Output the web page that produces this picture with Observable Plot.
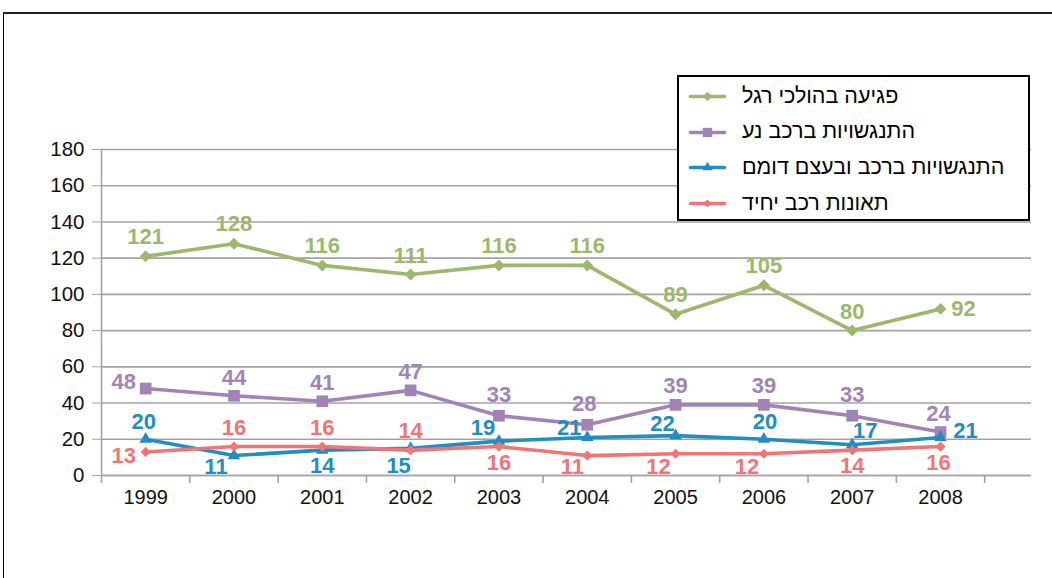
<!DOCTYPE html>
<html>
<head>
<meta charset="utf-8">
<script src="https://cdn.jsdelivr.net/npm/d3@7"></script>
<script src="https://cdn.jsdelivr.net/npm/@observablehq/plot@0.6"></script>
<style>
  html, body { margin: 0; padding: 0; background: #fff; }
  #wrap { position: relative; width: 1052px; height: 578px; overflow: hidden; font-family: "Liberation Sans", Arial, sans-serif; }
  #frame { position: absolute; left: 3px; top: 12px; width: 1100px; height: 600px; border-left: 1px solid #000; border-top: 2px solid #222; }
  #chart { position: absolute; left: 0; top: 0; }
  #legend { position: absolute; left: 677px; top: 75px; width: 353px; height: 146px; box-sizing: border-box; border: 2px solid #000; background: #fff; }
  .row { position: absolute; left: 0; height: 36px; display: flex; align-items: center; }
  .row svg { position: absolute; left: 11px; }
  .row span { position: absolute; left: 63px; white-space: nowrap; font-size: 21.5px; color: #000; direction: rtl; unicode-bidi: plaintext; }
</style>
</head>
<body>
<div id="wrap">
  <div id="frame"></div>
  <div id="chart"></div>
  <div id="legend"></div>
</div>
<script>
// ---- data ----
const years = [1999, 2000, 2001, 2002, 2003, 2004, 2005, 2006, 2007, 2008];
const pedestrian = [121, 128, 116, 111, 116, 116, 89, 105, 80, 92];
const movingVehicle = [48, 44, 41, 47, 33, 28, 39, 39, 33, 24];
const stationaryObject = [20, 11, 14, 15, 19, 21, 22, 20, 17, 21];
const singleVehicle = [13, 16, 16, 14, 16, 11, 12, 12, 14, 16];
const seriesNames = ["פגיעה בהולכי רגל", "התנגשויות ברכב נע", "התנגשויות ברכב ובעצם דומם", "תאונות רכב יחיד"];
const yTicks = [0, 20, 40, 60, 80, 100, 120, 140, 160, 180];

// ---- styling / layout config ----
const colors = ["#9BB86D", "#A283B7", "#228DC0", "#F17477"];
const symbols = ["diamond2", "square", "triangle", "diamond2"];
const radii = [5.4, 6.6, 4.6, 4.6];
// label offsets [dx, dy] per point
const labelOffsets = [
  [[0,-19],[0,-20],[0,-19],[0,-19],[0,-19],[0,-19],[0,-19],[0,-19],[0,-19],[23,0]],
  [[-22,-7],[0,-18],[0,-18],[0,-18],[0,-21],[-3,-21],[0,-19],[0,-19],[0,-21],[-2,-18]],
  [[-2,-17],[-18,11],[0,16],[-12,18],[-16,-13],[-18,-10],[-13,-12],[1,-17],[13,-14],[25,-7]],
  [[-22,4],[0,-19],[0,-19],[0,-19],[0,16],[-15,11],[-17,13],[-17,13],[0,16],[-2,16]]
];

const seriesValues = [pedestrian, movingVehicle, stationaryObject, singleVehicle];
const data = seriesValues.map((vals, s) => years.map((yr, i) => ({
  series: seriesNames[s], year: yr, value: vals[i], dx: labelOffsets[s][i][0], dy: labelOffsets[s][i][1]
})));
const bandEdges = d3.range(years.length + 1).map(i => years[0] - 0.5 + i);

const marks = [
  Plot.gridY(yTicks, {stroke: "#a3a3a3", strokeOpacity: 1, strokeWidth: 1.6}),
  Plot.axisY({ticks: yTicks, tickSize: 9, tickPadding: 8, stroke: "#a3a3a3", fontSize: 20.5, fill: "#111", label: null}),
  Plot.ruleX([years[0] - 0.5], {stroke: "#a3a3a3", strokeWidth: 1.6}),
  Plot.ruleY([0], {stroke: "#a3a3a3", strokeWidth: 1.6}),
  Plot.axisX({ticks: bandEdges, tickSize: 8, tickFormat: () => "", stroke: "#a3a3a3", strokeWidth: 1.6, label: null}),
  Plot.axisX({ticks: years, tickSize: 0, tickPadding: 14, tickFormat: d => String(d), fontSize: 20, fill: "#111", label: null})
];
data.forEach((d, s) => {
  marks.push(Plot.line(d, {x: "year", y: "value", stroke: colors[s], strokeWidth: 3.6}));
  marks.push(Plot.dot(d, {x: "year", y: "value", symbol: symbols[s], r: radii[s], fill: colors[s], stroke: "none"}));
});
data.forEach((d, s) => {
  d.forEach(p => {
    marks.push(Plot.text([p], {x: "year", y: "value", text: p => String(p.value), dx: p.dx, dy: p.dy,
      fill: colors[s], fontSize: 22, fontWeight: "bold"}));
  });
});

const chart = Plot.plot({
  width: 1052, height: 578,
  marginLeft: 101, marginRight: 21, marginTop: 149, marginBottom: 103,
  x: {type: "linear", domain: [years[0] - 0.5, 2009.03], axis: null},
  y: {domain: [0, 180], axis: null},
  style: {fontFamily: "Liberation Sans, Arial, sans-serif", background: "transparent", overflow: "visible"},
  marks
});
document.getElementById("chart").appendChild(chart);

// ---- legend ----
const legend = document.getElementById("legend");
seriesNames.forEach((name, s) => {
  const row = document.createElement("div");
  row.className = "row";
  row.style.top = (1 + s * 35.7) + "px";
  row.style.width = "349px";
  const sw = Plot.plot({
    width: 34, height: 16, margin: 0,
    x: {domain: [0, 2], axis: null}, y: {domain: [0, 2], axis: null},
    style: {background: "transparent", overflow: "visible"},
    marks: [
      Plot.line([[0, 1], [2, 1]], {stroke: colors[s], strokeWidth: 3.6}),
      Plot.dot([[1, 1]], {symbol: symbols[s], r: radii[s] * 0.8, fill: colors[s], stroke: "none"})
    ]
  });
  row.appendChild(sw);
  const span = document.createElement("span");
  span.textContent = name;
  row.appendChild(span);
  legend.appendChild(row);
});
</script>
</body>
</html>
